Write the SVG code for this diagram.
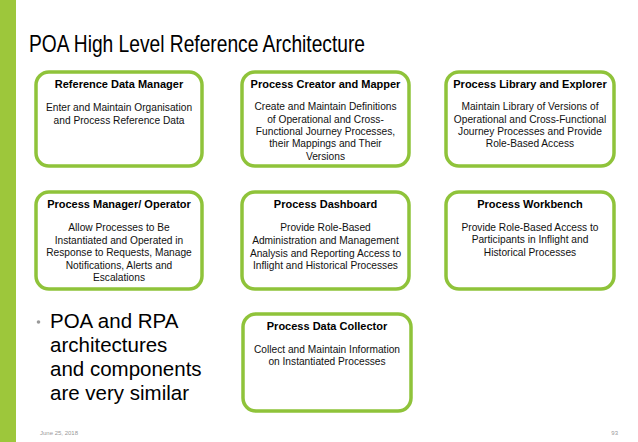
<svg xmlns="http://www.w3.org/2000/svg" width="638" height="442" viewBox="0 0 638 442">
<style>
.box{fill:#ffffff;stroke:#8fc33a;stroke-width:3.5}
.hd{font-family:"Liberation Sans",Arial,sans-serif;font-weight:bold;font-size:11px;fill:#000;text-anchor:middle}
.bd{font-family:"Liberation Sans",Arial,sans-serif;font-size:10.2px;fill:#111;text-anchor:middle}
.big{font-family:"Liberation Sans",Arial,sans-serif;font-size:20.5px;fill:#000}
.sm{font-family:"Liberation Sans",Arial,sans-serif;font-size:6px;fill:#999}
</style>
<rect x="0" y="0" width="638" height="442" fill="#ffffff"/>
<rect x="0" y="0" width="16" height="442" fill="#9dc73b"/>
<text x="29" y="52" font-family="'Liberation Sans',Arial,sans-serif" font-size="24" fill="#000" textLength="336" lengthAdjust="spacingAndGlyphs">POA High Level Reference Architecture</text>

<g id="reference-data-manager">
<rect class="box" x="36" y="72" width="166" height="94" rx="13"/>
<text class="hd" x="119" y="88">Reference Data Manager</text>
<text class="bd" x="119" y="111">Enter and  Maintain Organisation</text>
<text class="bd" x="119" y="124">and Process Reference Data</text>
</g>

<g id="process-creator-and-mapper">
<rect class="box" x="242" y="72" width="167" height="94" rx="13"/>
<text class="hd" x="325.5" y="88">Process Creator and Mapper</text>
<text class="bd" x="325.5" y="110">Create and  Maintain Definitions</text>
<text class="bd" x="325.5" y="123">of Operational and Cross-</text>
<text class="bd" x="325.5" y="135">Functional Journey Processes,</text>
<text class="bd" x="325.5" y="147">their Mappings and Their</text>
<text class="bd" x="325.5" y="160">Versions</text>
</g>

<g id="process-library-and-explorer">
<rect class="box" x="446" y="72" width="168" height="94" rx="13"/>
<text class="hd" x="530" y="88">Process Library and Explorer</text>
<text class="bd" x="530" y="110">Maintain Library  of  Versions of</text>
<text class="bd" x="530" y="123">Operational and Cross-Functional</text>
<text class="bd" x="530" y="135">Journey Processes and Provide</text>
<text class="bd" x="530" y="147">Role-Based Access</text>
</g>

<g id="process-manager-operator">
<rect class="box" x="36" y="192" width="166" height="97" rx="13"/>
<text class="hd" x="119" y="208">Process Manager/ Operator</text>
<text class="bd" x="119" y="231">Allow Processes to Be</text>
<text class="bd" x="119" y="244">Instantiated and Operated in</text>
<text class="bd" x="119" y="256">Response to Requests, Manage</text>
<text class="bd" x="119" y="269">Notifications, Alerts and</text>
<text class="bd" x="119" y="281">Escalations</text>
</g>

<g id="process-dashboard">
<rect class="box" x="242" y="192" width="167" height="97" rx="13"/>
<text class="hd" x="325.5" y="208">Process Dashboard</text>
<text class="bd" x="325.5" y="231">Provide Role-Based</text>
<text class="bd" x="325.5" y="244">Administration and Management</text>
<text class="bd" x="325.5" y="257">Analysis and Reporting Access to</text>
<text class="bd" x="325.5" y="269">Inflight and Historical Processes</text>
</g>

<g id="process-workbench">
<rect class="box" x="446" y="192" width="168" height="97" rx="13"/>
<text class="hd" x="530" y="208">Process Workbench</text>
<text class="bd" x="530" y="231">Provide Role-Based  Access  to</text>
<text class="bd" x="530" y="243">Participants in Inflight and</text>
<text class="bd" x="530" y="256">Historical Processes</text>
</g>

<g id="process-data-collector">
<rect class="box" x="243" y="314" width="168" height="97" rx="13"/>
<text class="hd" x="327" y="330">Process Data Collector</text>
<text class="bd" x="327" y="353">Collect and Maintain Information</text>
<text class="bd" x="327" y="365">on Instantiated Processes</text>
</g>

<g id="bullet">
<circle cx="38.5" cy="322" r="1.8" fill="#999"/>
<text class="big" x="50" y="328">POA and RPA</text>
<text class="big" x="50" y="352">architectures</text>
<text class="big" x="50" y="376">and components</text>
<text class="big" x="50" y="400">are very similar</text>
</g>

<text class="sm" x="40" y="435">June 25, 2018</text>
<text class="sm" x="618" y="435" text-anchor="end">93</text>
</svg>
